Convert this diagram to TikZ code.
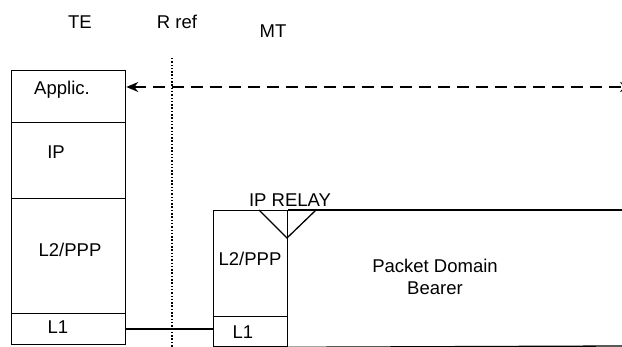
\documentclass[tikz,border=0pt]{standalone}
\usepackage{fontspec}
\setmainfont{Liberation Sans}
\usetikzlibrary{arrows.meta}

\begin{document}
\begin{tikzpicture}[x=1pt, y=-1pt, line width=1.3pt,
	layer/.style={draw, inner sep=0pt, anchor=north west},
	txt/.style={font=\fontsize{18.5}{21.5}\selectfont, inner sep=0pt, align=center}]

	\useasboundingbox (0,0) rectangle (622,347);

	% headings
	\node[txt] (te) at (80,22) {TE};
	\node[txt] (rref) at (177,22) {R ref};
	\node[txt] (mt) at (273,31) {MT};

	% TE stack
	\node[layer, minimum width=114pt, minimum height=52pt] (app) at (11,70) {};
	\node[layer, minimum width=114pt, minimum height=76pt] (ip) at (11,122) {};
	\node[layer, minimum width=114pt, minimum height=115pt] (ppp) at (11,198) {};
	\node[layer, minimum width=114pt, minimum height=31pt] (teL1) at (11,313) {};

	\node[txt] (appT) at (62,90) {Applic.};
	\node[txt] (ipT) at (56,152) {IP};
	\node[txt] (pppT) at (70,250) {L2/PPP};
	\node[txt] (teL1T) at (58,327) {L1};

	% MT stack
	\node[layer, minimum width=74pt, minimum height=106pt] (mtppp) at (213,210) {};
	\node[layer, minimum width=74pt, minimum height=30pt] (mtL1) at (213,316) {};

	\node[txt] (mtpppT) at (250,259) {L2/PPP};
	\node[txt] (mtL1T) at (243,332) {L1};
	\node[txt] (relay) at (290,200) {IP RELAY};
	\node[txt] (bearer) at (435,277) {Packet Domain\\Bearer};

	% packet domain bearer and relay
	\draw (mtppp.north east) -- (622,210);
	\draw (mtL1.south east) -- (622,346);
	\draw (259,210) -- (287,238) -- (316,210);

	% reference point
	\coordinate (rtop) at (172,58);
	\coordinate (rbot) at (172,347);
	\draw[line width=1.2pt, dash pattern=on 1.5pt off 1.8pt] (rtop) -- (rbot);

	% peer to peer
	\coordinate (peer) at (632,87);
	\draw[dash pattern=on 12pt off 7pt, {Stealth[length=12pt,width=10pt]}-{Stealth[length=12pt,width=10pt]}]
		(app.east |- peer) -- (peer);

	% physical link
	\draw (teL1.east |- 0,329) -- (mtL1.west |- 0,329);
\end{tikzpicture}
\end{document}
